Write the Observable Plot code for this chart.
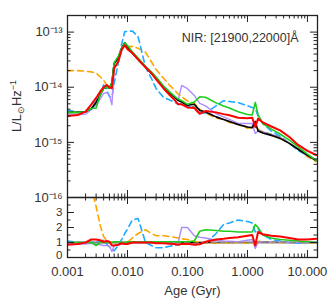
<!DOCTYPE html>
<html><head><meta charset="utf-8">
<script src="https://cdn.jsdelivr.net/npm/d3@7"></script>
<script src="https://cdn.jsdelivr.net/npm/@observablehq/plot@0.6"></script>
<style>
body{margin:0;background:#fff;}
#chart{position:relative;width:333px;height:303px;overflow:hidden;}
#chart svg{position:absolute;left:0;}
</style></head><body><div id="chart"></div>
<script>
const ages = [0.001,0.0015,0.002,0.0025,0.003,0.0035,0.004,0.0045,0.005,0.0055,0.006,0.007,0.008,0.009,0.01,0.012,0.015,0.02,0.025,0.03,0.04,0.05,0.06,0.07,0.08,0.1,0.13,0.16,0.2,0.3,0.4,0.5,0.7,1.0,1.2,1.35,1.5,1.8,2.5,3.5,5,7,10,14];

const lumBlack = [3.5e-15,3.5e-15,3.6e-15,4.1e-15,5.3e-15,7.2e-15,9.6e-15,1.0e-14,9.6e-15,1.2e-14,2.7e-14,3.4e-14,5.1e-14,6.4e-14,5.4e-14,4.2e-14,3.2e-14,2.3e-14,1.8e-14,1.46e-14,1.0e-14,7.9e-15,6.7e-15,5.8e-15,5.4e-15,4.7e-15,4.9e-15,3.8e-15,3.56e-15,2.9e-15,2.6e-15,2.4e-15,2.1e-15,1.9e-15,1.85e-15,2.4e-15,1.6e-15,1.48e-15,1.34e-15,1.18e-15,9.6e-16,7.5e-16,5.8e-16,4.7e-16];
const lumGray = [3.5e-15,3.5e-15,3.6e-15,4.1e-15,5.3e-15,7.2e-15,9.6e-15,1.0e-14,9.6e-15,1.2e-14,2.7e-14,3.4e-14,5.1e-14,6.4e-14,5.4e-14,4.2e-14,3.2e-14,2.3e-14,1.8e-14,1.46e-14,1.0e-14,7.9e-15,6.7e-15,5.8e-15,5.4e-15,4.7e-15,4.4e-15,3.8e-15,3.56e-15,2.9e-15,2.6e-15,2.4e-15,2.1e-15,1.9e-15,1.85e-15,2.0e-15,1.7e-15,1.55e-15,1.4e-15,1.24e-15,9.6e-16,7.5e-16,5.8e-16,4.7e-16];
const lumRed = [3.0e-15,3.15e-15,3.6e-15,4.9e-15,6.4e-15,8.3e-15,1.0e-14,1.1e-14,1.0e-14,9.6e-15,2.2e-14,2.9e-14,4.8e-14,5.8e-14,4.9e-14,4.2e-14,3.2e-14,2.3e-14,1.8e-14,1.39e-14,9.5e-15,7.3e-15,6.0e-15,4.9e-15,4.9e-15,4.3e-15,4.2e-15,3.3e-15,3.7e-15,3.5e-15,3.25e-15,3.1e-15,2.8e-15,2.75e-15,2.8e-15,1.9e-15,2.7e-15,2.3e-15,1.94e-15,1.65e-15,1.25e-15,9.0e-16,7.0e-16,5.9e-16];
const lumGreen = [3.5e-15,3.5e-15,3.6e-15,4.1e-15,4.2e-15,7.2e-15,9.6e-15,1.0e-14,9.6e-15,1.2e-14,2.8e-14,3.6e-14,5.1e-14,6.4e-14,5.7e-14,4.4e-14,3.4e-14,2.4e-14,1.9e-14,1.53e-14,1.05e-14,8.3e-15,7.0e-15,6.1e-15,5.7e-15,4.9e-15,5.4e-15,6.7e-15,6.6e-15,5.2e-15,4.55e-15,4.2e-15,3.6e-15,3.2e-15,3.15e-15,5.3e-15,3.2e-15,2.2e-15,1.74e-15,1.42e-15,1.1e-15,8.3e-16,6.1e-16,4.7e-16];
const lumPurple = [3.15e-15,3.15e-15,3.25e-15,3.9e-15,4.8e-15,6.1e-15,7.7e-15,8.0e-15,7.2e-15,4.8e-15,2.2e-14,2.9e-14,4.6e-14,5.8e-14,5.1e-14,4.2e-14,3.2e-14,2.3e-14,1.8e-14,1.46e-14,1.0e-14,7.9e-15,6.7e-15,5.8e-15,1.08e-14,9.4e-15,7.1e-15,5.1e-15,4.6e-15,3.3e-15,2.9e-15,2.6e-15,2.2e-15,2.2e-15,2.2e-15,1.45e-15,1.6e-15,1.55e-15,1.4e-15,1.24e-15,9.6e-16,7.5e-16,5.8e-16,4.7e-16];
const lumBlue = [3.85e-15,3.5e-15,3.6e-15,4.1e-15,5.6e-15,7.9e-15,1.1e-14,9.0e-15,6.7e-15,6.6e-15,1.2e-14,2.7e-14,6.1e-14,1.02e-13,1.03e-13,1.05e-13,8.3e-14,2.3e-14,1.45e-14,9.5e-15,6.5e-15,5.9e-15,5.4e-15,4.9e-15,4.9e-15,4.5e-15,4.2e-15,3.4e-15,3.4e-15,4.6e-15,5.7e-15,5.5e-15,5.25e-15,4.6e-15,4.3e-15,4.1e-15,3.0e-15,2.2e-15,1.6e-15,1.3e-15,9.6e-16,7.1e-16,5.8e-16,4.7e-16];
const lumOrange = [2.0e-14,2.0e-14,1.95e-14,1.9e-14,1.8e-14,1.55e-14,1.34e-14,1.1e-14,1.0e-14,1.2e-14,2.7e-14,3.4e-14,5.1e-14,6.4e-14,5.4e-14,5.5e-14,5.1e-14,4.3e-14,2.9e-14,2.1e-14,1.45e-14,1.1e-14,9.0e-15,7.5e-15,6.75e-15,5.6e-15,5.1e-15,4.0e-15,3.4e-15,2.75e-15,2.6e-15,2.3e-15,2.1e-15,1.8e-15,1.85e-15,2.0e-15,1.76e-15,1.55e-15,1.34e-15,1.18e-15,9.6e-16,7.5e-16,5.5e-16,4.5e-16];

const ratioGray = [1,1,1,1,1,1,1,1,1,1,1,1,1,1,1,1,1,1,1,1,1,1,1,1,1,1,0.9,1,1,1,1,1,1,1,1,0.85,1.05,1.05,1.05,1.05,1,1,1,1];
const ratioRed = [0.85,0.9,1.0,1.2,1.2,1.15,1.05,1.1,1.05,0.8,0.8,0.85,0.95,0.9,0.9,1.0,1.0,1.0,1.0,0.95,0.95,0.92,0.9,0.85,0.9,0.92,0.85,0.88,1.05,1.2,1.25,1.3,1.35,1.45,1.5,0.8,1.7,1.55,1.45,1.4,1.3,1.2,1.2,1.25];
const ratioGreen = [1.0,1.0,1.0,1.0,0.8,1.0,1.0,1.0,1.0,1.0,1.05,1.05,1.0,1.0,1.05,1.05,1.05,1.05,1.05,1.05,1.05,1.05,1.05,1.05,1.05,1.05,1.1,1.75,1.85,1.8,1.75,1.75,1.7,1.7,1.7,2.2,2.0,1.5,1.3,1.2,1.15,1.1,1.05,1.0];
const ratioPurple = [0.9,0.9,0.9,0.95,0.9,0.85,0.8,0.8,0.75,0.4,0.8,0.85,0.9,0.9,0.95,1.0,1.0,1.0,1.0,1.0,1.0,1.0,1.0,1.0,2.0,2.0,1.45,1.35,1.3,1.15,1.1,1.08,1.05,1.15,1.2,0.6,1.0,1.05,1.05,1.05,1.0,1.0,1.0,1.0];
const ratioBlue = [1.1,1.0,1.0,1.0,1.05,1.1,1.15,0.9,0.7,0.55,0.45,0.8,1.2,1.6,1.9,2.5,2.6,1.0,0.8,0.65,0.65,0.75,0.8,0.85,0.9,0.95,0.85,0.9,0.95,1.6,2.2,2.3,2.5,2.4,2.3,1.7,1.9,1.5,1.2,1.1,1.0,0.95,1.0,1.0];
const ratioOrange = [5.8,5.7,5.4,4.6,3.4,2.15,1.4,1.1,1.05,1.0,1.0,1.0,1.0,1.0,1.0,1.3,1.6,1.85,1.6,1.45,1.45,1.4,1.35,1.3,1.25,1.2,1.05,1.05,0.95,0.95,1.0,0.95,1.0,0.95,1.0,0.85,1.1,1.05,1.0,1.0,1.0,1.0,0.95,0.95];

const lumTicks = [1e-16,1e-15,1e-14,1e-13];
const ageTicks = [0.001,0.01,0.1,1,10];
const ageTickLabels = ["0.001","0.010","0.100","1.000","10.000"];
const ratioTicks = [0,1,2,3];
const ratioMinorTicks = [0.5,1.5,2.5,3.5];
const titleText = "NIR: [21900,22000]Å";
const yLabelParts = ["L/L", "⊙", "Hz", "−1"];
const xLabelText = "Age (Gyr)";

const series = [
  {lum: lumOrange, ratio: ratioOrange, stroke: "#ffa500", w: 1.6, dash: "6,4"},
  {lum: lumBlue, ratio: ratioBlue, stroke: "#1eaaff", w: 1.6, dash: "6,4"},
  {lum: lumPurple, ratio: ratioPurple, stroke: "#b08cff", w: 1.4, dash: null},
  {lum: lumGray, ratio: ratioGray, stroke: "#8a8a8a", w: 1.6, dash: "5,4"},
  {lum: lumBlack, ratio: null, stroke: "#000000", w: 1.6, dash: null},
  {lum: lumGreen, ratio: ratioGreen, stroke: "#1ecc1e", w: 1.6, dash: null},
  {lum: lumRed, ratio: ratioRed, stroke: "#ff0000", w: 2, dash: null}
];

const xDomain = [0.001, 14.7];
const minorLog = (lo, hi) => { const out = []; for (let e = Math.floor(Math.log10(lo)); e <= Math.ceil(Math.log10(hi)); e++) for (let k = 2; k <= 9; k++) { const v = k * Math.pow(10, e); if (v > lo && v < hi) out.push(v); } return out; };
const ageMinor = minorLog(xDomain[0], xDomain[1]);
const lumDomain = [1e-16, 2e-13];
const lumMinor = minorLog(lumDomain[0], lumDomain[1]);

const supMap = {"-":"⁻","0":"⁰","1":"¹","2":"²","3":"³","4":"⁴","5":"⁵","6":"⁶","7":"⁷","8":"⁸","9":"⁹"};
const powFmt = d => "10" + String(Math.round(Math.log10(d))).split("").map(c => supMap[c]).join("");
const ageFmt = d => ageTickLabels[ageTicks.findIndex(t => Math.abs(t - d) / t < 1e-6)];

const W = 333, ML = 67, MR = 16;
const topH = 197, topMT = 15;
const frameWTop = W - ML - MR;
const frameHTop = topH - topMT;
const botH = 106, botMB = 46;
const frameHBot = botH - botMB;
const MAJ = 7, MIN = 3.5;
const font = "'Liberation Sans', Arial, Helvetica, sans-serif";
const txt = "#333";

function tickMarks(xMaj, xMin, yMaj, yMin, fh, fw) {
  return [
    Plot.ruleX(xMaj, {insetTop: fh - MAJ, stroke: "#222"}),
    Plot.ruleX(xMin, {insetTop: fh - MIN, stroke: "#222"}),
    Plot.ruleX(xMaj, {insetBottom: fh - MAJ, stroke: "#222"}),
    Plot.ruleX(xMin, {insetBottom: fh - MIN, stroke: "#222"}),
    Plot.ruleY(yMaj, {insetRight: fw - MAJ, stroke: "#222"}),
    Plot.ruleY(yMin, {insetRight: fw - MIN, stroke: "#222"}),
    Plot.ruleY(yMaj, {insetLeft: fw - MAJ, stroke: "#222"}),
    Plot.ruleY(yMin, {insetLeft: fw - MIN, stroke: "#222"})
  ];
}

const topPlot = Plot.plot({
  width: W, height: topH, marginTop: topMT, marginBottom: 0, marginLeft: ML, marginRight: MR,
  style: {fontFamily: font, fontSize: "12px", color: txt, background: "white", overflow: "visible"},
  x: {type: "log", domain: xDomain, axis: null},
  y: {type: "log", domain: lumDomain},
  marks: [
    ...series.map(s => Plot.line(ages, {x: d => d, y: (d, i) => s.lum[i], stroke: s.stroke, strokeWidth: s.w, strokeDasharray: s.dash, strokeLinejoin: "round", clip: true})),
    ...tickMarks(ageTicks, ageMinor, lumTicks, lumMinor, frameHTop, frameWTop),
    Plot.frame({stroke: "#222", strokeWidth: 1.3}),
    Plot.axisY(lumTicks, {tickSize: 0, tickPadding: 5, tickFormat: powFmt, fontSize: 13, label: null}),
    Plot.text([titleText], {frameAnchor: "top-right", dx: -19, dy: 22, lineAnchor: "middle", textAnchor: "end", fontSize: 12.5, fill: txt})
  ]
});

const botPlot = Plot.plot({
  width: W, height: botH, marginTop: 0, marginBottom: botMB, marginLeft: ML, marginRight: MR,
  style: {fontFamily: font, fontSize: "12px", color: txt, background: "transparent", overflow: "visible"},
  x: {type: "log", domain: xDomain},
  y: {type: "linear", domain: [0, 4]},
  marks: [
    Plot.ruleY([1], {stroke: "#000", strokeWidth: 1.6}),
    ...series.filter(s => s.ratio).map(s => Plot.line(ages, {x: d => d, y: (d, i) => s.ratio[i], stroke: s.stroke, strokeWidth: s.w, strokeDasharray: s.dash, strokeLinejoin: "round", clip: true})),
    ...tickMarks(ageTicks, ageMinor, ratioTicks, ratioMinorTicks, frameHBot, frameWTop),
    Plot.frame({stroke: "#222", strokeWidth: 1.3}),
    Plot.axisY(ratioTicks.filter(t => t > 0), {tickSize: 0, tickPadding: 5, fontSize: 11.5, label: null}),
    Plot.axisY(ratioTicks.filter(t => t === 0), {tickSize: 0, tickPadding: 5, fontSize: 11.5, label: null, dy: -2.5}),
    Plot.axisX(ageTicks, {tickSize: 0, tickPadding: 9, tickFormat: ageFmt, fontSize: 13, label: null}),
    Plot.text([xLabelText], {frameAnchor: "bottom", dy: 33, lineAnchor: "middle", fontSize: 13, fill: txt})
  ]
});

const chart = document.getElementById("chart");
topPlot.style.top = "0px";
botPlot.style.top = topH + "px";
chart.appendChild(topPlot);
chart.appendChild(botPlot);

const yl = d3.select(topPlot).append("text")
  .attr("transform", `translate(21,${topMT + frameHTop / 2}) rotate(-90)`)
  .attr("text-anchor", "middle").attr("fill", txt).attr("font-size", 13).attr("font-family", font);
yl.append("tspan").text(yLabelParts[0]);
yl.append("tspan").attr("dy", 3).attr("font-size", 9).text(yLabelParts[1]);
yl.append("tspan").attr("dy", -3).text(yLabelParts[2]);
yl.append("tspan").attr("dy", -5).attr("font-size", 9).text(yLabelParts[3]);
</script></body></html>
